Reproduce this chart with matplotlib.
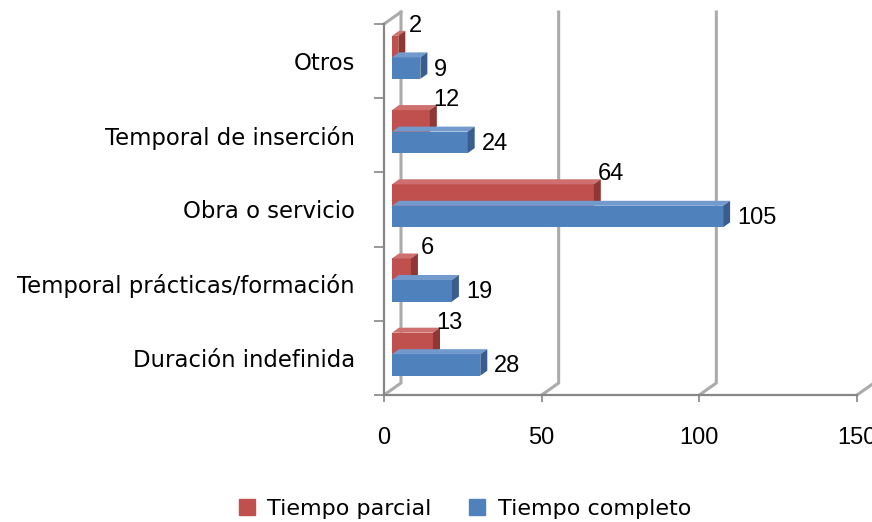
import matplotlib
matplotlib.use("Agg")
from matplotlib import pyplot as plt
from matplotlib.patches import Polygon, Patch

# --- datos ---
categorias = ["Duración indefinida", "Temporal prácticas/formación",
              "Obra o servicio", "Temporal de inserción", "Otros"]
tiempo_parcial = [13, 6, 64, 12, 2]
tiempo_completo = [28, 19, 105, 24, 9]
series = ["Tiempo parcial", "Tiempo completo"]
x_ticks = [0, 50, 100, 150]

# colores: cara, tapa, lateral
ROJO = ("#C0504D", "#CE716E", "#8E3734")
AZUL = ("#4F81BD", "#729ACD", "#375E8E")
GRID = "#ABABAB"
AXIS = "#868686"
NUM_FONT = "Liberation Sans"
TXT_FONT = "DejaVu Sans"

W, H = 872, 522
fig = plt.figure(figsize=(W / 100, H / 100), dpi=100)
fig.patch.set_facecolor("white")

# escala en px del plano frontal
PX_X = (857 - 384) / 150
PX_Y = (395 - 24) / 5
ax = fig.add_axes([384 / W, (H - 395) / H, (W - 384) / W, (395 - 8) / H])
ax.set_xlim(0, (W - 384) / PX_X)
ax.set_ylim(0, (395 - 8) / PX_Y)
ax.patch.set_alpha(0)

# profundidad de las paredes
DX, DY = 17 / PX_X, 12 / PX_Y
n = len(categorias)
for xv in x_ticks:
    ax.plot([xv, xv + DX, xv + DX], [0, DY, n + DY], color=GRID, lw=2.2,
            clip_on=False, zorder=1, solid_joinstyle="round")
ax.plot([0, DX], [n, n + DY], color=GRID, lw=2.2, clip_on=False, zorder=1)

# barras 3D
x0 = 8 / PX_X          # desplazamiento de la cara frontal
h = 0.29
split = 0.55
bdx, bdy = 7 / PX_X, 5 / PX_Y


def bar3d(y0, v, cols, z):
    ax.barh(y0, v, left=x0, height=h, align="edge", color=cols[0], zorder=z,
            linewidth=0)
    top = [(x0, y0 + h), (x0 + v, y0 + h), (x0 + v + bdx, y0 + h + bdy), (x0 + bdx, y0 + h + bdy)]
    side = [(x0 + v, y0), (x0 + v + bdx, y0 + bdy), (x0 + v + bdx, y0 + h + bdy), (x0 + v, y0 + h)]
    ax.add_patch(Polygon(top, closed=True, color=cols[1], zorder=z, lw=0))
    ax.add_patch(Polygon(side, closed=True, color=cols[2], zorder=z, lw=0))


for i in range(n):
    yr = i + split
    yb = i + split - h
    bar3d(yr, tiempo_parcial[i], ROJO, 3)
    bar3d(yb, tiempo_completo[i], AZUL, 4)
    ax.annotate(str(tiempo_parcial[i]), xy=(x0 + tiempo_parcial[i], yr + h / 2),
                xytext=(12, 15), textcoords="offset points", ha="center", va="center",
                fontsize=17, family=NUM_FONT, zorder=6)
    ax.annotate(str(tiempo_completo[i]), xy=(x0 + tiempo_completo[i], yb + h / 2),
                xytext=(10, -1), textcoords="offset points", ha="left", va="center",
                fontsize=17, family=NUM_FONT, zorder=6)

# ejes
for side in ["top", "right"]:
    ax.spines[side].set_visible(False)
for side in ["left", "bottom"]:
    ax.spines[side].set_color(AXIS)
    ax.spines[side].set_linewidth(1.6)
ax.spines["left"].set_bounds(0, n)
ax.spines["bottom"].set_bounds(0, 150)

ax.set_xticks(x_ticks)
ax.set_xticklabels([str(t) for t in x_ticks], fontsize=17, family=NUM_FONT)
ax.tick_params(axis="x", length=5, width=1.2, color=AXIS, pad=18)

ax.set_yticks(range(n + 1))
ax.set_yticklabels([])
ax.tick_params(axis="y", which="major", length=7, width=1.2, color=AXIS)
ax.set_yticks([i + 0.5 for i in range(n)], minor=True)
ax.set_yticklabels(categorias, minor=True, fontsize=16.4, family=TXT_FONT)
ax.tick_params(axis="y", which="minor", length=0, pad=21)

handles = [Patch(color=ROJO[0]), Patch(color=AZUL[0])]
fig.legend(handles, series, loc="center", bbox_to_anchor=(465 / W, (H - 509) / H),
           ncol=2, frameon=False, prop={"family": TXT_FONT, "size": 16},
           handlelength=0.72, handleheight=0.72, handletextpad=0.55, columnspacing=1.7)

fig.savefig("out.png", dpi=100, facecolor="white")
